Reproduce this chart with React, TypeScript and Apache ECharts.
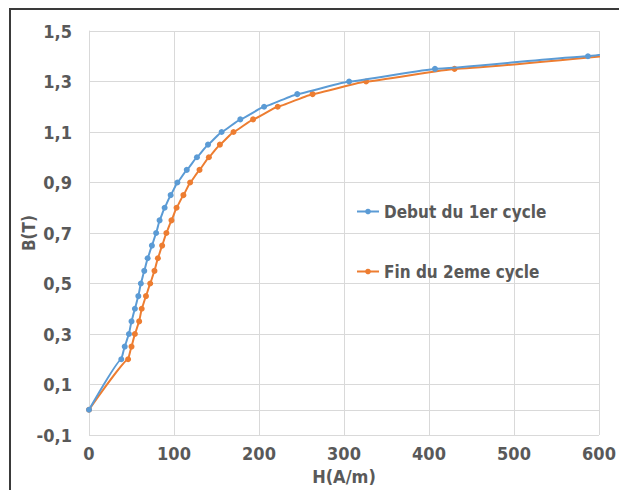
import React, { useEffect, useRef } from "react";
import * as echarts from "echarts";

const seriesNames = ["Debut du 1er cycle", "Fin du 2eme cycle"];
const colors = ["#5B9BD5", "#ED7D31"];

const debutH = [0, 38, 42, 47, 50, 54, 58, 61, 65, 69, 74, 79, 83, 89, 96, 104, 115, 127, 140, 156, 178, 206, 245, 306, 407, 587, 620];
const debutB = [0, 0.2, 0.25, 0.3, 0.35, 0.4, 0.45, 0.5, 0.55, 0.6, 0.65, 0.7, 0.75, 0.8, 0.85, 0.9, 0.95, 1.0, 1.05, 1.1, 1.15, 1.2, 1.25, 1.3, 1.35, 1.4, 1.415];

const finH = [0, 46, 50, 54, 59, 62, 67, 72, 77, 81, 86, 91, 97, 103, 111, 119, 130, 141, 154, 170, 193, 222, 263, 326, 430, 620];
const finB = [0, 0.2, 0.25, 0.3, 0.35, 0.4, 0.45, 0.5, 0.55, 0.6, 0.65, 0.7, 0.75, 0.8, 0.85, 0.9, 0.95, 1.0, 1.05, 1.1, 1.15, 1.2, 1.25, 1.3, 1.35, 1.405];

const yTicks = [-0.1, 0.1, 0.3, 0.5, 0.7, 0.9, 1.1, 1.3, 1.5];
const xTicks = [0, 100, 200, 300, 400, 500, 600];

const FONT = "'Liberation Sans Narrow', 'DejaVu Sans Condensed', 'Arial Narrow', sans-serif";
const TEXT = "#595959";
const GRID = "#D9D9D9";

export default function App() {
  const ref = useRef<HTMLDivElement>(null);
  useEffect(() => {
    document.body.style.margin = "0";
    if (!ref.current) return;
    const chart = echarts.init(ref.current, undefined, { renderer: "svg" });
    const zip = (xs: number[], ys: number[]) => xs.map((x, i) => [x, ys[i]]);
    chart.setOption({
      animation: false,
      backgroundColor: "#ffffff",
      textStyle: { fontFamily: FONT },
      grid: { left: 89, right: 20, top: 31, bottom: 53, containLabel: false },
      legend: {
        orient: "vertical",
        left: 351,
        top: 198,
        itemGap: 43,
        itemWidth: 22,
        itemHeight: 7,
        data: seriesNames,
        textStyle: { color: TEXT, fontSize: 17, fontFamily: FONT, fontWeight: "bold" },
      },
      xAxis: {
        type: "value",
        min: xTicks[0],
        max: xTicks[xTicks.length - 1],
        interval: 100,
        name: "H(A/m)",
        nameLocation: "middle",
        nameGap: 32,
        nameMoveOverlap: false,
        nameTextStyle: { color: TEXT, fontSize: 18, fontFamily: FONT, fontWeight: "bold" },
        axisLine: { show: true, lineStyle: { color: GRID, width: 1 } },
        axisTick: { show: false },
        axisLabel: { color: TEXT, fontSize: 18, fontFamily: FONT, fontWeight: "bold", margin: 9 },
        splitLine: { show: true, lineStyle: { color: GRID, width: 1 } },
      },
      yAxis: {
        type: "value",
        min: yTicks[0],
        max: yTicks[yTicks.length - 1],
        name: "B(T)",
        nameLocation: "middle",
        nameGap: 52,
        nameMoveOverlap: false,
        nameRotate: 90,
        nameTextStyle: { color: TEXT, fontSize: 17, fontFamily: FONT, fontWeight: "bold" },
        axisLine: { show: true, lineStyle: { color: GRID, width: 1 } },
        axisTick: { show: false, customValues: yTicks },
        axisLabel: {
          customValues: yTicks,
          color: TEXT,
          fontSize: 18,
          fontFamily: FONT,
          fontWeight: "bold",
          margin: 17,
          formatter: (v: number) => v.toFixed(1).replace(".", ","),
        },
        splitLine: { show: true, lineStyle: { color: GRID, width: 1 } },
      },
      series: [
        {
          name: seriesNames[0],
          type: "line",
          data: zip(debutH, debutB),
          smooth: 0.1,
          smoothMonotone: "x",
          symbol: "circle",
          symbolSize: 6,
          clip: true,
          itemStyle: { color: colors[0] },
          lineStyle: { color: colors[0], width: 2 },
          z: 3,
        },
        {
          name: seriesNames[1],
          type: "line",
          data: zip(finH, finB),
          smooth: 0.1,
          smoothMonotone: "x",
          symbol: "circle",
          symbolSize: 6,
          clip: true,
          itemStyle: { color: colors[1] },
          lineStyle: { color: colors[1], width: 2 },
          z: 2,
        },
      ],
    });
    return () => chart.dispose();
  }, []);
  return (
    <div style={{ position: "relative", width: 619, height: 490, background: "#fff", overflow: "hidden" }}>
      <div ref={ref} style={{ position: "absolute", left: 0, top: 0, width: 619, height: 490 }} />
      <div
        style={{
          position: "absolute",
          left: 9,
          top: 8,
          width: 640,
          height: 520,
          borderTop: "2px solid #3a3a3a",
          borderLeft: "2px solid #3a3a3a",
          pointerEvents: "none",
        }}
      />
    </div>
  );
}
